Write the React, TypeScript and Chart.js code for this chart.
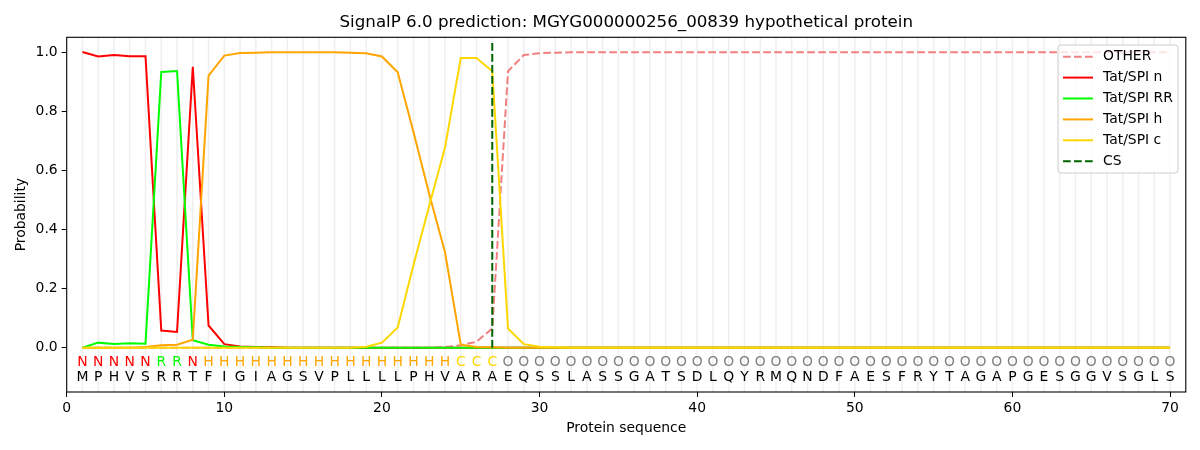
import { useEffect, useRef } from 'react'
import { Chart, registerables, Plugin } from 'chart.js'

Chart.register(...registerables)

const TITLE = 'SignalP 6.0 prediction: MGYG000000256_00839 hypothetical protein'

const sequence = 'MPHVSRRTFIGIAGSVPLLLLPHVARAEQSSLASSGATSDLQYRMQNDFAESFRYTAGAPGESGGVSGLS'.split('')
const regionLabels = ('NNNNNRRN' + 'H'.repeat(16) + 'CCC' + 'O'.repeat(43)).split('')

const zeros = (n: number) => new Array(n).fill(0)

const otherProb = [
  ...zeros(23), 0.002, 0.008, 0.02, 0.065, 0.935, 0.99, 0.996, 0.998, 0.999,
  ...new Array(38).fill(0.999),
]
const tatN = [
  1.0, 0.985, 0.99, 0.986, 0.986, 0.058, 0.053, 0.95, 0.075, 0.012, 0.004, 0.002, 0.001,
  ...zeros(57),
]
const tatRR = [
  0.0, 0.017, 0.012, 0.015, 0.013, 0.933, 0.936, 0.025, 0.01, 0.004, 0.002, 0.001,
  ...zeros(58),
]
const tatH = [
  0, 0, 0, 0, 0.002, 0.008, 0.01, 0.027, 0.92, 0.988, 0.997, 0.998, 0.999, 0.999, 0.999,
  0.999, 0.999, 0.998, 0.996, 0.985, 0.932, 0.73, 0.52, 0.323, 0.01, 0.002, 0.001,
  ...zeros(43),
]
const tatC = [
  ...zeros(18), 0.003, 0.017, 0.068, 0.28, 0.48, 0.677, 0.98, 0.98, 0.935, 0.065, 0.012,
  0.003, 0.001,
  ...zeros(39),
]
const csPosition = 27

const labelColors: Record<string, string> = {
  N: '#ff0000',
  R: '#00ff00',
  H: '#ffa500',
  C: '#ffd700',
  O: '#808080',
}

const legendItems = [
  { label: 'OTHER', color: '#f08080', dash: [7.7, 3.3] },
  { label: 'Tat/SPI n', color: '#ff0000', dash: [] },
  { label: 'Tat/SPI RR', color: '#00ff00', dash: [] },
  { label: 'Tat/SPI h', color: '#ffa500', dash: [] },
  { label: 'Tat/SPI c', color: '#ffd700', dash: [] },
  { label: 'CS', color: '#006400', dash: [7.7, 3.3] },
]

const FONT = '"DejaVu Sans", sans-serif'

const toPoints = (arr: number[]) => arr.map((y, i) => ({ x: i + 1, y }))

const decorations: Plugin = {
  id: 'decorations',
  beforeDatasetsDraw(chart) {
    const { ctx, chartArea, scales } = chart
    ctx.save()
    ctx.strokeStyle = '#efefef'
    ctx.lineWidth = 1.5
    for (let i = 1; i <= sequence.length; i++) {
      const x = scales.x.getPixelForValue(i)
      ctx.beginPath()
      ctx.moveTo(x, chartArea.top)
      ctx.lineTo(x, chartArea.bottom)
      ctx.stroke()
    }
    ctx.restore()
  },
  afterDatasetsDraw(chart) {
    const { ctx, chartArea, scales } = chart
    ctx.save()
    // residue letters
    ctx.textAlign = 'center'
    ctx.textBaseline = 'middle'
    ctx.font = `13.9px ${FONT}`
    const yLab = scales.y.getPixelForValue(-0.05)
    const ySeq = scales.y.getPixelForValue(-0.1)
    sequence.forEach((aa, i) => {
      const x = scales.x.getPixelForValue(i + 1)
      ctx.fillStyle = labelColors[regionLabels[i]]
      ctx.fillText(regionLabels[i], x, yLab)
      ctx.fillStyle = '#000'
      ctx.fillText(aa, x, ySeq)
    })

    // frame
    ctx.strokeStyle = '#000'
    ctx.lineWidth = 1.1
    ctx.strokeRect(chartArea.left, chartArea.top, chartArea.right - chartArea.left, chartArea.bottom - chartArea.top)

    // title and axis titles
    const cx = (chartArea.left + chartArea.right) / 2
    ctx.fillStyle = '#000'
    ctx.font = `16.7px ${FONT}`
    ctx.fillText(TITLE, cx, 23)
    ctx.font = `13.9px ${FONT}`
    ctx.fillText('Protein sequence', cx, 428)
    ctx.save()
    ctx.translate(21, (chartArea.top + chartArea.bottom) / 2)
    ctx.rotate(-Math.PI / 2)
    ctx.fillText('Probability', 0, 0)
    ctx.restore()

    // legend
    const bx = chartArea.right - 127.8
    const by = chartArea.top + 7.7
    ctx.fillStyle = 'rgba(255,255,255,0.8)'
    ctx.strokeStyle = '#cccccc'
    ctx.lineWidth = 1
    ctx.beginPath()
    ctx.roundRect(bx, by, 120, 128, 3)
    ctx.fill()
    ctx.stroke()
    ctx.textAlign = 'left'
    legendItems.forEach((item, i) => {
      const y = by + 11.7 + i * 20.9
      ctx.strokeStyle = item.color
      ctx.lineWidth = 2
      ctx.setLineDash(item.dash)
      ctx.beginPath()
      ctx.moveTo(bx + 5, y)
      ctx.lineTo(bx + 35, y)
      ctx.stroke()
      ctx.setLineDash([])
      ctx.fillStyle = '#000'
      ctx.fillText(item.label, bx + 45, y)
    })
    ctx.restore()
  },
}

export default function App() {
  const canvasRef = useRef<HTMLCanvasElement>(null)

  useEffect(() => {
    if (!canvasRef.current) return
    const line = (label: string, data: number[], color: string, order: number, dash: number[] = []) => ({
      label,
      data: toPoints(data),
      borderColor: color,
      backgroundColor: color,
      borderWidth: 2,
      borderDash: dash,
      pointRadius: 0,
      tension: 0,
      order,
    })
    const chart = new Chart(canvasRef.current, {
      type: 'line',
      data: {
        datasets: [
          line('OTHER', otherProb, '#f08080', 6, [7.7, 3.3]),
          line('Tat/SPI n', tatN, '#ff0000', 5),
          line('Tat/SPI RR', tatRR, '#00ff00', 4),
          line('Tat/SPI h', tatH, '#ffa500', 3),
          line('Tat/SPI c', tatC, '#ffd700', 2),
          {
            label: 'CS',
            data: [{ x: csPosition, y: 0 }, { x: csPosition, y: 1.035 }],
            borderColor: '#006400',
            borderWidth: 2,
            borderDash: [7.7, 3.3],
            pointRadius: 0,
            order: 1,
          },
        ],
      },
      options: {
        responsive: false,
        animation: false,
        devicePixelRatio: 1,
        layout: { padding: { top: 37.3, right: 14.2, left: 0, bottom: 0 } },
        plugins: {
          legend: { display: false },
          title: { display: false },
          tooltip: { enabled: false },
        },
        scales: {
          x: {
            type: 'linear',
            min: 0,
            max: 71,
            afterBuildTicks: (s: any) => {
              s.ticks = [0, 10, 20, 30, 40, 50, 60, 70].map(v => ({ value: v }))
            },
            afterFit: (s: any) => {
              s.height = 58
            },
            grid: { drawOnChartArea: false, tickLength: 5, tickColor: '#000' },
            border: { display: false },
            ticks: { color: '#000', padding: 3, maxRotation: 0, font: { family: FONT, size: 13.9 } },
          },
          y: {
            type: 'linear',
            min: -0.15,
            max: 1.05,
            afterBuildTicks: (s: any) => {
              s.ticks = [0, 0.2, 0.4, 0.6, 0.8, 1.0].map(v => ({ value: v }))
            },
            afterFit: (s: any) => {
              s.width = 66.7
            },
            grid: { drawOnChartArea: false, tickLength: 5, tickColor: '#000' },
            border: { display: false },
            ticks: {
              color: '#000',
              padding: 4,
              font: { family: FONT, size: 13.9 },
              callback: (v: any) => Number(v).toFixed(1),
            },
          },
        },
      },
      plugins: [decorations],
    })
    return () => chart.destroy()
  }, [])

  return (
    <div style={{ position: 'absolute', left: 0, top: 0, width: 1200, height: 450, background: '#fff' }}>
      <canvas ref={canvasRef} width={1200} height={450} />
    </div>
  )
}
